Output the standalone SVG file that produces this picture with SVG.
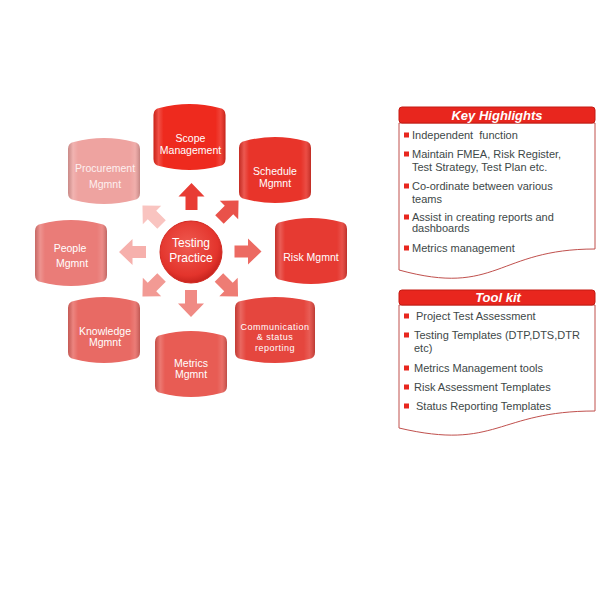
<svg xmlns="http://www.w3.org/2000/svg" width="600" height="600" viewBox="0 0 600 600">
<style>
.nt{font-family:"Liberation Sans",Arial,sans-serif;font-size:10.5px;fill:#ffffff;text-anchor:middle}
.ns{font-family:"Liberation Sans",Arial,sans-serif;font-size:9px;letter-spacing:0.5px;fill:#ffffff;text-anchor:middle}
.ct{font-family:"Liberation Sans",Arial,sans-serif;font-size:12px;fill:#ffffff;text-anchor:middle}
.hd{font-family:"Liberation Sans",Arial,sans-serif;font-size:13px;font-weight:bold;font-style:italic;fill:#ffffff;text-anchor:middle}
.it{font-family:"Liberation Sans",Arial,sans-serif;font-size:11px;fill:#404848}
.bul{fill:#e8261e}
.hdr{fill:#e8261e;stroke:#c41a12;stroke-width:1}
.doc{fill:#ffffff;stroke:#c0504d;stroke-width:1}
.bev{fill:url(#bevel)}
</style>
<defs>
<path id="can" d="M-30,-29 Q0,-37 30,-29 Q36,-28 36,-22 L36,22 Q36,28 30,29 Q0,37 -30,29 Q-36,28 -36,22 L-36,-22 Q-36,-28 -30,-29 Z"/>
<path id="canW" d="M-34,-29 Q0,-37 34,-29 Q40,-28 40,-22 L40,22 Q40,28 34,29 Q0,37 -34,29 Q-40,28 -40,22 L-40,-22 Q-40,-28 -34,-29 Z"/>
<path id="arr" d="M0,-13.5 L13,0 L6,0 L6,13.5 L-6,13.5 L-6,0 L-13,0 Z"/>
<linearGradient id="bevel" x1="0" y1="0" x2="1" y2="0">
<stop offset="0" stop-color="#000" stop-opacity="0.15"/>
<stop offset="0.07" stop-color="#fff" stop-opacity="0.18"/>
<stop offset="0.14" stop-color="#fff" stop-opacity="0"/>
<stop offset="0.86" stop-color="#fff" stop-opacity="0"/>
<stop offset="0.93" stop-color="#fff" stop-opacity="0.12"/>
<stop offset="1" stop-color="#000" stop-opacity="0.18"/>
</linearGradient>
<radialGradient id="circ" cx="0.45" cy="0.4" r="0.6">
<stop offset="0" stop-color="#ef5a50"/>
<stop offset="0.8" stop-color="#e3342c"/>
<stop offset="1" stop-color="#c8241e"/>
</radialGradient>
</defs>

<g id="connectors">
<use href="#arr" transform="translate(191.5,196.5)" fill="#e83c34"/>
<use href="#arr" transform="translate(229,210) rotate(45)" fill="#e9524a"/>
<use href="#arr" transform="translate(248,251.5) rotate(90)" fill="#ec6a62"/>
<use href="#arr" transform="translate(228.5,287) rotate(135)" fill="#ee7c74"/>
<use href="#arr" transform="translate(191,303.5) rotate(180)" fill="#f08a84"/>
<use href="#arr" transform="translate(152,287) rotate(225)" fill="#f29a94"/>
<use href="#arr" transform="translate(132.5,252) rotate(270)" fill="#f6b0ac"/>
<use href="#arr" transform="translate(152,215) rotate(315)" fill="#f9c4c0"/>
</g>

<g id="center">
<circle cx="191" cy="252" r="31" fill="url(#circ)" stroke="#d22a22" stroke-width="1"/>
<text class="ct" x="191" y="247">Testing</text>
<text class="ct" x="191" y="262">Practice</text>
</g>

<g id="scope" transform="translate(189.5,137)">
<use href="#can" fill="#ee2a1e"/><use href="#can" class="bev"/>
<text class="nt" x="1" y="4.5">Scope</text>
<text class="nt" x="1" y="16.5">Management</text>
</g>
<g id="schedule" transform="translate(275,170)">
<use href="#can" fill="#e8342a"/><use href="#can" class="bev"/>
<text class="nt" x="0" y="4.5">Schedule</text>
<text class="nt" x="0" y="16.5">Mgmnt</text>
</g>
<g id="risk" transform="translate(311,251)">
<use href="#can" fill="#e63a32"/><use href="#can" class="bev"/>
<text class="nt" x="0" y="9.5">Risk Mgmnt</text>
</g>
<g id="communication" transform="translate(275,330)">
<use href="#canW" fill="#e5463e"/><use href="#canW" class="bev"/>
<text class="ns" x="0" y="-0.5">Communication</text>
<text class="ns" x="0" y="10">&amp; status</text>
<text class="ns" x="0" y="20.5">reporting</text>
</g>
<g id="metrics" transform="translate(191,364)">
<use href="#can" fill="#e85c54"/><use href="#can" class="bev"/>
<text class="nt" x="0" y="2.5">Metrics</text>
<text class="nt" x="0" y="13.5">Mgmnt</text>
</g>
<g id="knowledge" transform="translate(104,330)">
<use href="#can" fill="#e86a64"/><use href="#can" class="bev"/>
<text class="nt" x="1" y="4.5">Knowledge</text>
<text class="nt" x="1" y="15.5">Mgmnt</text>
</g>
<g id="people" transform="translate(71,253)">
<use href="#can" fill="#ea7c78"/><use href="#can" class="bev"/>
<text class="nt" x="-1" y="-1.5">People</text>
<text class="nt" x="1" y="13.5">Mgmnt</text>
</g>
<g id="procurement" transform="translate(104,171)">
<use href="#can" fill="#eea3a0"/><use href="#can" class="bev"/>
<text class="nt" x="1" y="0.5" style="fill:#fdf0f0">Procurement</text>
<text class="nt" x="1" y="16.5" style="fill:#fdf0f0">Mgmnt</text>
</g>

<g id="key-highlights">
<path class="doc" d="M399,123 L595,123 L595,249 C497,249 497,297 399,270 Z"/>
<rect class="hdr" x="399" y="107" width="196" height="16" rx="3"/>
<text class="hd" x="497" y="120">Key Highlights</text>
<rect class="bul" x="404" y="132.5" width="5" height="5"/>
<text class="it" x="412" y="139" xml:space="preserve">Independent  function</text>
<rect class="bul" x="404" y="151.5" width="5" height="5"/>
<text class="it" x="412" y="158">Maintain FMEA, Risk Register,</text>
<text class="it" x="412" y="171">Test Strategy, Test Plan etc.</text>
<rect class="bul" x="404" y="183.5" width="5" height="5"/>
<text class="it" x="412" y="190">Co-ordinate between various</text>
<text class="it" x="412" y="203">teams</text>
<rect class="bul" x="404" y="214.5" width="5" height="5"/>
<text class="it" x="412" y="221">Assist in creating reports and</text>
<text class="it" x="412" y="232">dashboards</text>
<rect class="bul" x="404" y="245.5" width="5" height="5"/>
<text class="it" x="412" y="252">Metrics management</text>
</g>

<g id="tool-kit">
<path class="doc" d="M399,305 L595,305 L595,411 C497,411 497,451 399,428 Z"/>
<rect class="hdr" x="399" y="290" width="196" height="15" rx="3"/>
<text class="hd" x="498" y="302">Tool kit</text>
<rect class="bul" x="404" y="313.5" width="5" height="5"/>
<text class="it" x="416" y="320">Project Test Assessment</text>
<rect class="bul" x="404" y="332.5" width="5" height="5"/>
<text class="it" x="414" y="339">Testing Templates (DTP,DTS,DTR</text>
<text class="it" x="414" y="352">etc)</text>
<rect class="bul" x="404" y="365.5" width="5" height="5"/>
<text class="it" x="414" y="372">Metrics Management tools</text>
<rect class="bul" x="404" y="384.5" width="5" height="5"/>
<text class="it" x="414" y="391">Risk Assessment Templates</text>
<rect class="bul" x="404" y="403.5" width="5" height="5"/>
<text class="it" x="416" y="410">Status Reporting Templates</text>
</g>
</svg>
